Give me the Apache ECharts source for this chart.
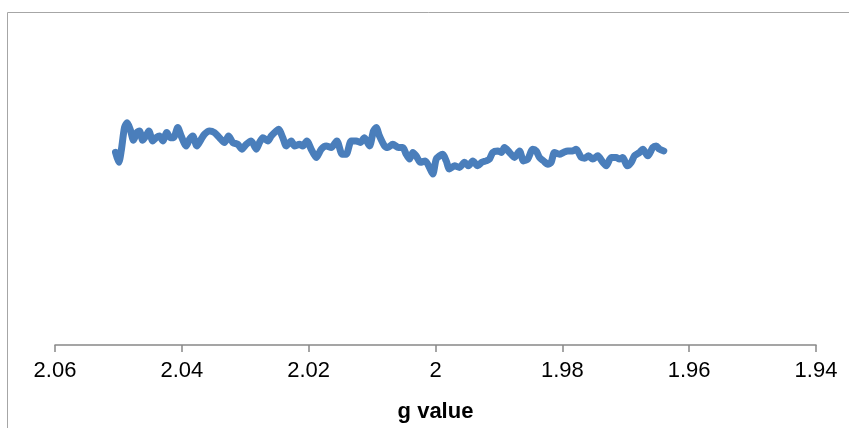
<!DOCTYPE html>
<html>
<head>
<meta charset="utf-8">
<script src="https://cdn.jsdelivr.net/npm/echarts@6/dist/echarts.min.js"></script>
<style>
html,body{margin:0;padding:0;background:#fff;}
#chart{width:849px;height:428px;}
</style>
</head>
<body>
<div id="chart"></div>
<script>
// g values (x)
const gValues = [
2.05046,2.04994,2.04956,2.04904,2.04862,2.04814,2.04762,2.04710,2.04668,2.04616,
2.04552,2.04521,2.04458,2.04404,2.04352,2.04300,2.04237,2.04183,2.04131,2.04064,
2.04010,2.03931,2.03879,2.03827,2.03764,2.03695,2.03643,2.03564,2.03485,2.03406,
2.03327,2.03264,2.03196,2.03117,2.03054,2.02985,2.02906,2.02827,2.02775,2.02723,
2.02644,2.02591,2.02512,2.02476,2.02408,2.02354,2.02275,2.02223,2.02145,2.02093,
2.02029,2.01960,2.01881,2.01802,2.01724,2.01645,2.01556,2.01471,2.01408,2.01329,
2.01250,2.01187,2.01120,2.01041,2.00978,2.00935,2.00883,2.00804,2.00752,2.00673,
2.00584,2.00516,2.00462,2.00410,2.00358,2.00304,2.00237,2.00162,2.00095,2.00043,
1.99989,1.99937,1.99885,1.99831,1.99779,1.99700,1.99622,1.99543,1.99480,1.99412,
1.99333,1.99270,1.99201,1.99149,1.99097,1.99018,1.98964,1.98912,1.98833,1.98754,
1.98675,1.98612,1.98545,1.98466,1.98412,1.98360,1.98297,1.98229,1.98176,1.98124,
1.98045,1.97982,1.97914,1.97835,1.97781,1.97702,1.97650,1.97587,1.97520,1.97441,
1.97362,1.97308,1.97230,1.97151,1.97099,1.97047,1.96977,1.96914,1.96862,1.96783,
1.96731,1.96652,1.96574,1.96520,1.96468,1.96400
];
// signal intensity (arbitrary units)
const intensity = [
18.5,12.4,19.4,33.8,36.8,32.7,26.0,30.7,31.7,26.0,
29.7,31.7,25.6,27.6,28.6,25.6,30.7,27.6,27.6,33.8,
28.6,22.5,26.6,28.6,22.5,26.6,29.7,31.7,30.7,27.6,
24.6,28.6,24.6,23.5,20.5,23.5,25.6,20.5,24.6,27.6,
25.6,28.6,31.7,32.7,27.6,22.5,25.6,22.5,23.5,22.5,
25.6,20.5,15.4,20.5,22.5,21.5,25.6,17.4,17.4,25.6,
25.6,24.6,27.6,22.5,31.7,33.8,28.6,22.5,21.5,23.5,
21.5,21.5,17.4,14.4,18.5,16.4,12.4,13.3,9.3,5.2,
14.4,16.4,17.4,13.3,8.3,10.3,9.3,12.4,10.3,13.3,
10.3,12.4,13.3,14.4,18.5,19.4,18.5,21.5,18.5,15.4,
19.4,13.3,14.4,20.5,19.4,15.4,13.3,11.3,12.4,18.5,
17.4,18.5,19.4,19.4,20.5,15.4,15.0,16.4,14.4,16.4,
12.4,10.3,15.4,15.4,14.4,15.4,10.3,12.4,16.4,18.5,
20.5,16.4,21.5,22.5,20.5,19.4
];
const xMin = 1.94, xMax = 2.06, xStep = 0.02;
const xTitle = 'g value';

const data = gValues.map((g, i) => [g, intensity[i]]);
const chart = echarts.init(document.getElementById('chart'), null, {renderer: 'canvas'});
chart.setOption({
  animation: false,
  backgroundColor: '#fff',
  graphic: [{
    type: 'rect', silent: true, z: -1,
    shape: {x: 7.5, y: 12.5, width: 1000, height: 600},
    style: {fill: 'none', stroke: '#a6a6a6', lineWidth: 1}
  }],
  grid: {left: 55, right: 33, top: 20, bottom: 81, containLabel: false},
  xAxis: {
    type: 'value', inverse: true, min: xMin, max: xMax, interval: xStep,
    name: xTitle, nameLocation: 'middle', nameGap: 56,
    nameTextStyle: {fontFamily: 'Liberation Sans', fontWeight: 'bold', fontSize: 22, color: '#000'},
    axisLine: {onZero: false, lineStyle: {color: '#888', width: 1.5}},
    axisTick: {show: true, length: 7, lineStyle: {color: '#888', width: 1.5}},
    axisLabel: {margin: 15, fontFamily: 'Liberation Sans', fontSize: 22, color: '#000'},
    splitLine: {show: false}
  },
  yAxis: {type: 'value', min: -100, max: 100, show: false},
  series: [{
    type: 'line', data: data, showSymbol: false, smooth: 0.25,
    lineStyle: {color: '#4a7ebb', width: 7, cap: 'round', join: 'round'},
    itemStyle: {color: '#4a7ebb'}
  }]
});
</script>
</body>
</html>
